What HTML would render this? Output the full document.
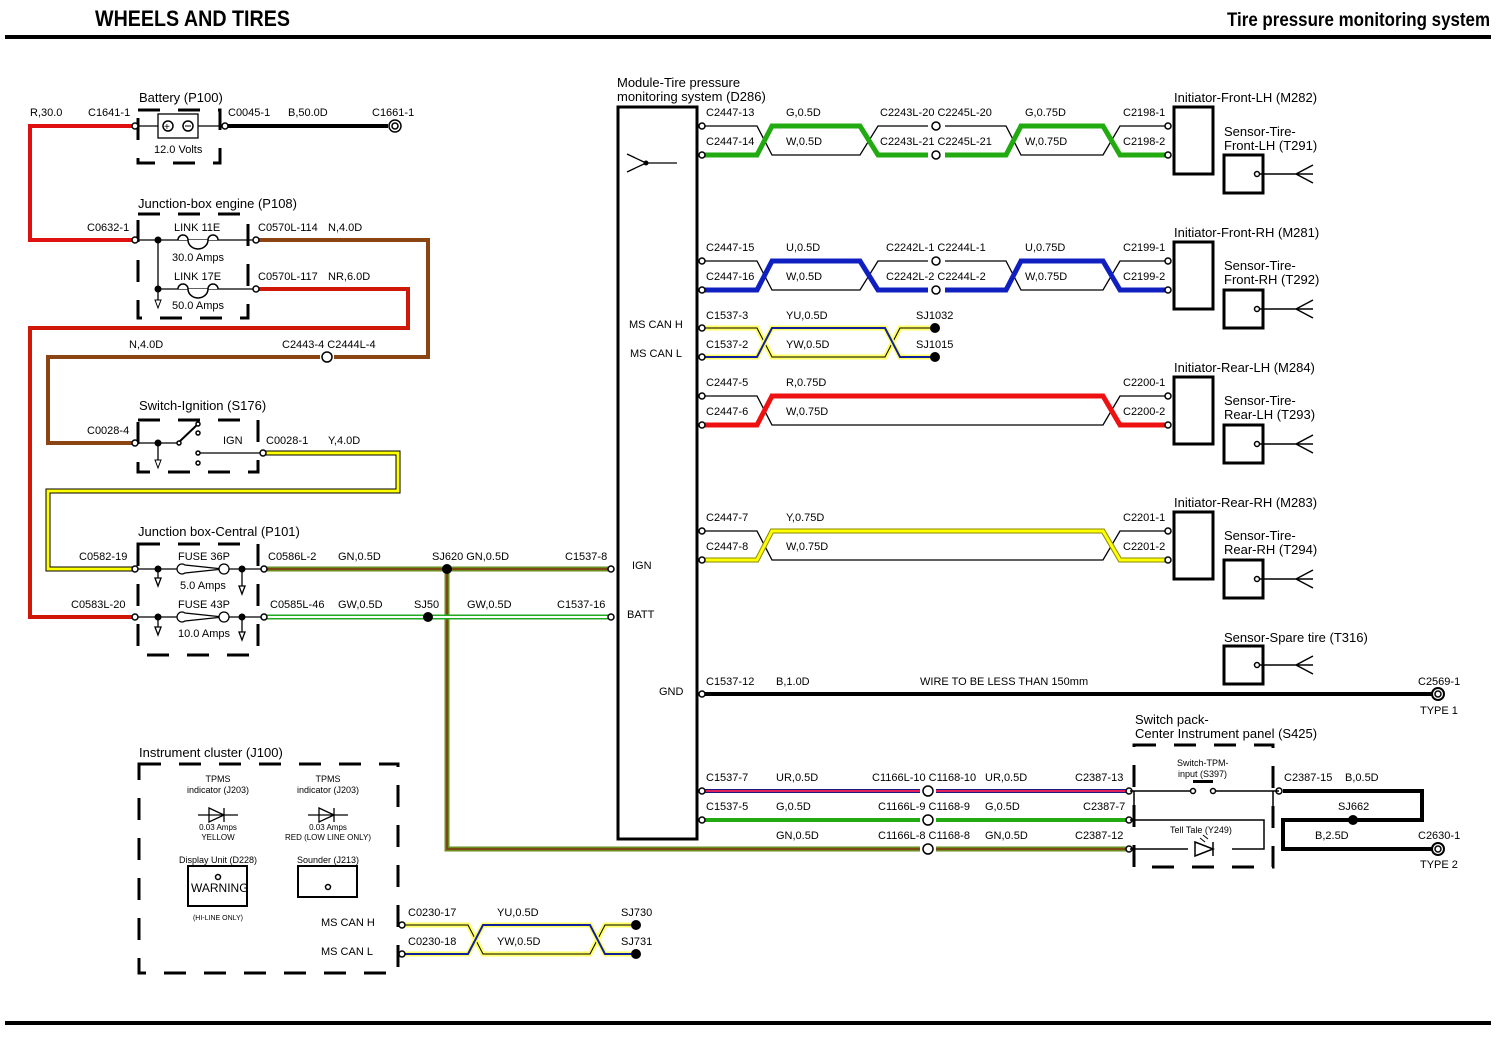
<!DOCTYPE html>
<html><head><meta charset="utf-8"><style>
html,body{margin:0;padding:0;background:#fff;}
svg{display:block;font-family:"Liberation Sans",sans-serif;}
.t{font-size:11px;fill:#000;}
.m{font-size:13px;fill:#000;}
.s{font-size:9px;fill:#000;}
.d{fill:none;stroke:#000;stroke-width:3;stroke-dasharray:22,18;}
.k{fill:none;stroke:#000;stroke-width:1.3;}
.c{fill:#fff;stroke:#000;stroke-width:1.5;}
</style></head><body>
<svg width="1512" height="1041" viewBox="0 0 1512 1041" xmlns="http://www.w3.org/2000/svg">
<rect width="1512" height="1041" fill="#fff"/>
<!-- header -->
<text x="95" y="26" font-size="22" font-weight="bold" textLength="195" lengthAdjust="spacingAndGlyphs">WHEELS AND TIRES</text>
<text x="1227" y="26" font-size="19" font-weight="bold" textLength="263" lengthAdjust="spacingAndGlyphs">Tire pressure monitoring system</text>
<rect x="5" y="35" width="1486" height="4" fill="#000"/>
<rect x="5" y="1021" width="1486" height="4" fill="#000"/>

<!-- ===== colored wires ===== -->
<!-- red battery feed -->
<polyline points="135,126 30,126 30,240 135,240" fill="none" stroke="#e01010" stroke-width="4"/>
<!-- black battery -->
<line x1="226" y1="126" x2="388" y2="126" stroke="#000" stroke-width="4"/>
<!-- brown N -->
<polyline points="258,240 428,240 428,357 334,357" fill="none" stroke="#8b4513" stroke-width="4"/>
<polyline points="320,357 48,357 48,443 135,443" fill="none" stroke="#8b4513" stroke-width="4"/>
<!-- red NR -->
<polyline points="258,289 408,289 408,328 30,328 30,617 133,617" fill="none" stroke="#d01808" stroke-width="4"/>
<!-- yellow -->
<polyline points="264,453 398,453 398,491 48,491 48,569 133,569" fill="none" stroke="#000" stroke-width="5"/>
<polyline points="264,453 398,453 398,491 48,491 48,569 133,569" fill="none" stroke="#ffff00" stroke-width="3"/>
<!-- GN olive -->
<polyline points="265,569 610,569" fill="none" stroke="#6b8e23" stroke-width="5"/>
<polyline points="265,569 610,569" fill="none" stroke="#7a4a10" stroke-width="2"/>
<polyline points="447,569 447,849 920,849" fill="none" stroke="#6b8e23" stroke-width="5"/>
<polyline points="447,569 447,849 920,849" fill="none" stroke="#7a4a10" stroke-width="2"/>
<line x1="936" y1="849" x2="1128" y2="849" stroke="#6b8e23" stroke-width="5"/>
<line x1="936" y1="849" x2="1128" y2="849" stroke="#7a4a10" stroke-width="2"/>
<!-- GW -->
<line x1="265" y1="617" x2="610" y2="617" stroke="#22aa22" stroke-width="5"/>
<line x1="265" y1="617" x2="610" y2="617" stroke="#fff" stroke-width="2"/>

<!-- green pair -->
<polyline points="703,126 757,126 772,155 860,155 878,126 928,126" class="k"/>
<polyline points="945,126 1006,126 1021,155 1103,155 1120,126 1168,126" class="k"/>
<polyline points="703,155 757,155 772,126 860,126 878,155 928,155" fill="none" stroke="#22aa11" stroke-width="5"/>
<polyline points="945,155 1006,155 1021,126 1103,126 1120,155 1168,155" fill="none" stroke="#22aa11" stroke-width="5"/>
<!-- blue pair -->
<polyline points="703,261 757,261 772,290 860,290 878,261 928,261" class="k"/>
<polyline points="945,261 1006,261 1021,290 1103,290 1120,261 1168,261" class="k"/>
<polyline points="703,290 757,290 772,261 860,261 878,290 928,290" fill="none" stroke="#1020c0" stroke-width="5"/>
<polyline points="945,290 1006,290 1021,261 1103,261 1120,290 1168,290" fill="none" stroke="#1020c0" stroke-width="5"/>
<!-- CAN pair -->
<polyline points="703,328 757,328 772,357 885,357 900,328 933,328" fill="none" stroke="#ffff66" stroke-width="5"/>
<polyline points="703,328 757,328 772,357 885,357 900,328 933,328" fill="none" stroke="#000" stroke-width="1"/>
<polyline points="703,357 757,357 772,328 885,328 900,357 933,357" fill="none" stroke="#ffff66" stroke-width="5"/>
<polyline points="703,357 757,357 772,328 885,328 900,357 933,357" fill="none" stroke="#1020a0" stroke-width="2"/>
<circle cx="935" cy="328" r="5" fill="#000"/><circle cx="935" cy="357" r="5" fill="#000"/>
<!-- red pair -->
<polyline points="703,396 757,396 772,425 1103,425 1120,396 1168,396" class="k"/>
<polyline points="703,425 757,425 772,396 1103,396 1120,425 1168,425" fill="none" stroke="#ee1111" stroke-width="5"/>
<!-- yellow pair -->
<polyline points="703,531 757,531 772,560 1103,560 1120,531 1168,531" class="k"/>
<polyline points="703,560 757,560 772,531 1103,531 1120,560 1168,560" fill="none" stroke="#888800" stroke-width="5"/>
<polyline points="703,560 757,560 772,531 1103,531 1120,560 1168,560" fill="none" stroke="#ffff00" stroke-width="3"/>
<!-- GND -->
<line x1="703" y1="694" x2="1432" y2="694" stroke="#000" stroke-width="4"/>
<!-- UR -->
<line x1="703" y1="791" x2="920" y2="791" stroke="#1a1a80" stroke-width="4"/>
<line x1="703" y1="791" x2="920" y2="791" stroke="#e0205a" stroke-width="2"/>
<line x1="936" y1="791" x2="1128" y2="791" stroke="#1a1a80" stroke-width="4"/>
<line x1="936" y1="791" x2="1128" y2="791" stroke="#e0205a" stroke-width="2"/>
<!-- G -->
<line x1="703" y1="820" x2="920" y2="820" stroke="#22aa11" stroke-width="4"/>
<line x1="936" y1="820" x2="1128" y2="820" stroke="#22aa11" stroke-width="4"/>
<!-- black right loop -->
<polyline points="1283,791 1422,791 1422,820 1283,820 1283,849 1432,849" fill="none" stroke="#000" stroke-width="4"/>
<circle cx="1353" cy="820" r="5" fill="#000"/>
<!-- instrument CAN -->
<polyline points="403,925 468,925 483,954 590,954 605,925 634,925" fill="none" stroke="#ffff66" stroke-width="5"/>
<polyline points="403,925 468,925 483,954 590,954 605,925 634,925" fill="none" stroke="#000" stroke-width="1"/>
<polyline points="403,954 468,954 483,925 590,925 605,954 634,954" fill="none" stroke="#ffff66" stroke-width="5"/>
<polyline points="403,954 468,954 483,925 590,925 605,954 634,954" fill="none" stroke="#1020a0" stroke-width="2"/>
<circle cx="636" cy="925" r="5" fill="#000"/><circle cx="636" cy="954" r="5" fill="#000"/>

<!-- ===== Battery ===== -->
<text x="139" y="102" class="m">Battery (P100)</text>
<text x="30" y="116" class="t">R,30.0</text>
<text x="88" y="116" class="t">C1641-1</text>
<text x="228" y="116" class="t">C0045-1</text>
<text x="288" y="116" class="t">B,50.0D</text>
<text x="372" y="116" class="t">C1661-1</text>
<rect x="138" y="110" width="82" height="53" class="d"/>
<line x1="136" y1="126" x2="224" y2="126" stroke="#000" stroke-width="1.3"/>
<rect x="158" y="114" width="40" height="24" fill="#fff" stroke="#000" stroke-width="1.3"/>
<circle cx="168" cy="126" r="5" class="c"/><text x="164" y="130" font-size="10">+</text>
<circle cx="188" cy="126" r="5" class="c"/><line x1="185" y1="126" x2="191" y2="126" stroke="#000"/>
<text x="154" y="153" class="t">12.0 Volts</text>
<circle cx="395" cy="126" r="6" class="c" stroke-width="2"/><circle cx="395" cy="126" r="3" class="c"/>

<!-- ===== Junction engine ===== -->
<text x="138" y="208" class="m">Junction-box engine (P108)</text>
<rect x="138" y="214" width="110" height="104" class="d"/>
<text x="87" y="231" class="t">C0632-1</text>
<text x="258" y="231" class="t">C0570L-114</text><text x="328" y="231" class="t">N,4.0D</text>
<text x="258" y="280" class="t">C0570L-117</text><text x="328" y="280" class="t">NR,6.0D</text>
<text x="174" y="231" class="t">LINK 11E</text><text x="172" y="261" class="t">30.0 Amps</text>
<text x="174" y="280" class="t">LINK 17E</text><text x="172" y="309" class="t">50.0 Amps</text>
<line x1="136" y1="240" x2="256" y2="240" stroke="#000" stroke-width="1.3"/>
<line x1="158" y1="289" x2="256" y2="289" stroke="#000" stroke-width="1.3"/>
<line x1="158" y1="240" x2="158" y2="300" stroke="#000" stroke-width="1.3"/>
<circle cx="158" cy="240" r="3.5" fill="#000"/><circle cx="158" cy="289" r="3.5" fill="#000"/>
<path d="M178,240 a5,5 0 1 1 10,0 a10,9 0 0 0 20,0 a5,5 0 1 1 10,0" fill="#fff" stroke="#000" stroke-width="1.5"/>
<path d="M178,289 a5,5 0 1 1 10,0 a10,9 0 0 0 20,0 a5,5 0 1 1 10,0" fill="#fff" stroke="#000" stroke-width="1.5"/>
<path d="M155,300 l3,8 l3,-8 z" fill="#fff" stroke="#000"/>
<text x="129" y="348" class="t">N,4.0D</text>
<text x="282" y="348" class="t">C2443-4 C2444L-4</text>
<circle cx="327" cy="357" r="5" class="c"/>

<!-- ===== Ignition ===== -->
<text x="139" y="410" class="m">Switch-Ignition (S176)</text>
<rect x="138" y="420" width="120" height="52" class="d"/>
<text x="87" y="434" class="t">C0028-4</text>
<text x="223" y="444" class="t">IGN</text>
<text x="266" y="444" class="t">C0028-1</text><text x="328" y="444" class="t">Y,4.0D</text>
<line x1="136" y1="443" x2="178" y2="443" stroke="#000" stroke-width="1.3"/>
<circle cx="158" cy="443" r="3.5" fill="#000"/>
<line x1="158" y1="443" x2="158" y2="460" stroke="#000" stroke-width="1.3"/>
<path d="M155,460 l3,8 l3,-8 z" fill="#fff" stroke="#000"/>
<line x1="178" y1="443" x2="198" y2="424" stroke="#000" stroke-width="2"/>
<circle cx="179" cy="443" r="2" class="c"/><circle cx="198" cy="424" r="2" class="c"/>
<circle cx="198" cy="433" r="2" class="c"/><circle cx="198" cy="453" r="2" class="c"/><circle cx="198" cy="463" r="2" class="c"/>
<line x1="200" y1="453" x2="262" y2="453" stroke="#000" stroke-width="1.3"/>

<!-- ===== Junction central ===== -->
<text x="138" y="536" class="m">Junction box-Central (P101)</text>
<rect x="138" y="544" width="120" height="111" class="d"/>
<text x="79" y="560" class="t">C0582-19</text>
<text x="71" y="608" class="t">C0583L-20</text>
<text x="268" y="560" class="t">C0586L-2</text><text x="338" y="560" class="t">GN,0.5D</text>
<text x="270" y="608" class="t">C0585L-46</text><text x="338" y="608" class="t">GW,0.5D</text>
<text x="178" y="560" class="t">FUSE 36P</text><text x="180" y="589" class="t">5.0 Amps</text>
<text x="178" y="608" class="t">FUSE 43P</text><text x="178" y="637" class="t">10.0 Amps</text>
<line x1="136" y1="569" x2="262" y2="569" stroke="#000" stroke-width="1.3"/>
<line x1="136" y1="617" x2="262" y2="617" stroke="#000" stroke-width="1.3"/>
<g stroke="#000" stroke-width="1.3" fill="#fff">
<path d="M185,565 a5,5 0 1 0 0,8 l38,-4 l-38,-4z"/><circle cx="224" cy="569" r="5"/>
<path d="M185,613 a5,5 0 1 0 0,8 l38,-4 l-38,-4z"/><circle cx="224" cy="617" r="5"/>
<line x1="158" y1="569" x2="158" y2="579"/><path d="M155,578 l3,8 l3,-8z"/>
<line x1="242" y1="569" x2="242" y2="586"/><path d="M239,586 l3,8 l3,-8z"/>
<line x1="158" y1="617" x2="158" y2="627"/><path d="M155,627 l3,8 l3,-8z"/>
<line x1="242" y1="617" x2="242" y2="632"/><path d="M239,632 l3,8 l3,-8z"/>
</g>
<circle cx="158" cy="569" r="3.5" fill="#000"/><circle cx="242" cy="569" r="3.5" fill="#000"/>
<circle cx="158" cy="617" r="3.5" fill="#000"/><circle cx="242" cy="617" r="3.5" fill="#000"/>
<text x="432" y="560" class="t">SJ620 GN,0.5D</text>
<text x="565" y="560" class="t">C1537-8</text>
<text x="414" y="608" class="t">SJ50</text>
<text x="467" y="608" class="t">GW,0.5D</text>
<text x="557" y="608" class="t">C1537-16</text>
<circle cx="447" cy="569" r="5" fill="#000"/><circle cx="428" cy="617" r="5" fill="#000"/>

<!-- ===== Module ===== -->
<text x="617" y="87" class="m">Module-Tire pressure</text>
<text x="617" y="101" class="m">monitoring system (D286)</text>
<rect x="618" y="107" width="79" height="732" fill="#fff" stroke="#000" stroke-width="3"/>
<line x1="627" y1="154" x2="646" y2="163" stroke="#000" stroke-width="1.3"/>
<line x1="627" y1="172" x2="646" y2="163" stroke="#000" stroke-width="1.3"/>
<line x1="646" y1="163" x2="677" y2="163" stroke="#000" stroke-width="1.3"/>
<circle cx="646" cy="163" r="2.5" fill="#000"/>
<text x="629" y="328" class="t">MS CAN H</text>
<text x="630" y="357" class="t">MS CAN L</text>
<text x="632" y="569" class="t">IGN</text>
<text x="627" y="618" class="t">BATT</text>
<text x="659" y="695" class="t">GND</text>

<!-- right side labels -->
<g class="t">
<text x="706" y="116">C2447-13</text><text x="786" y="116">G,0.5D</text><text x="880" y="116">C2243L-20 C2245L-20</text><text x="1025" y="116">G,0.75D</text><text x="1123" y="116">C2198-1</text>
<text x="706" y="145">C2447-14</text><text x="786" y="145">W,0.5D</text><text x="880" y="145">C2243L-21 C2245L-21</text><text x="1025" y="145">W,0.75D</text><text x="1123" y="145">C2198-2</text>
<text x="706" y="251">C2447-15</text><text x="786" y="251">U,0.5D</text><text x="886" y="251">C2242L-1 C2244L-1</text><text x="1025" y="251">U,0.75D</text><text x="1123" y="251">C2199-1</text>
<text x="706" y="280">C2447-16</text><text x="786" y="280">W,0.5D</text><text x="886" y="280">C2242L-2 C2244L-2</text><text x="1025" y="280">W,0.75D</text><text x="1123" y="280">C2199-2</text>
<text x="706" y="319">C1537-3</text><text x="786" y="319">YU,0.5D</text><text x="916" y="319">SJ1032</text>
<text x="706" y="348">C1537-2</text><text x="786" y="348">YW,0.5D</text><text x="916" y="348">SJ1015</text>
<text x="706" y="386">C2447-5</text><text x="786" y="386">R,0.75D</text><text x="1123" y="386">C2200-1</text>
<text x="706" y="415">C2447-6</text><text x="786" y="415">W,0.75D</text><text x="1123" y="415">C2200-2</text>
<text x="706" y="521">C2447-7</text><text x="786" y="521">Y,0.75D</text><text x="1123" y="521">C2201-1</text>
<text x="706" y="550">C2447-8</text><text x="786" y="550">W,0.75D</text><text x="1123" y="550">C2201-2</text>
<text x="706" y="685">C1537-12</text><text x="776" y="685">B,1.0D</text><text x="920" y="685">WIRE TO BE LESS THAN 150mm</text><text x="1418" y="685">C2569-1</text><text x="1420" y="714">TYPE 1</text>
<text x="706" y="781">C1537-7</text><text x="776" y="781">UR,0.5D</text><text x="872" y="781">C1166L-10 C1168-10</text><text x="985" y="781">UR,0.5D</text><text x="1075" y="781">C2387-13</text>
<text x="706" y="810">C1537-5</text><text x="776" y="810">G,0.5D</text><text x="878" y="810">C1166L-9 C1168-9</text><text x="985" y="810">G,0.5D</text><text x="1083" y="810">C2387-7</text>
<text x="776" y="839">GN,0.5D</text><text x="878" y="839">C1166L-8 C1168-8</text><text x="985" y="839">GN,0.5D</text><text x="1075" y="839">C2387-12</text>
<text x="1284" y="781">C2387-15</text><text x="1345" y="781">B,0.5D</text><text x="1338" y="810">SJ662</text><text x="1315" y="839">B,2.5D</text><text x="1418" y="839">C2630-1</text><text x="1420" y="868">TYPE 2</text>
</g>
<!-- inline connectors -->
<g class="c">
<circle cx="936" cy="126" r="4"/><circle cx="936" cy="155" r="4"/>
<circle cx="936" cy="261" r="4"/><circle cx="936" cy="290" r="4"/>
<circle cx="928" cy="791" r="5"/><circle cx="928" cy="820" r="5"/><circle cx="928" cy="849" r="5"/>
<circle cx="1438" cy="694" r="6" stroke-width="2"/><circle cx="1438" cy="694" r="3"/>
<circle cx="1438" cy="849" r="6" stroke-width="2"/><circle cx="1438" cy="849" r="3"/>
</g>
<!-- pin connectors -->
<g class="c">
<circle cx="135" cy="126" r="3"/><circle cx="225" cy="126" r="3"/>
<circle cx="135" cy="240" r="3"/><circle cx="256" cy="240" r="3"/><circle cx="256" cy="289" r="3"/>
<circle cx="135" cy="443" r="3"/><circle cx="263" cy="453" r="3"/>
<circle cx="135" cy="569" r="3"/><circle cx="135" cy="617" r="3"/><circle cx="264" cy="569" r="3"/><circle cx="264" cy="617" r="3"/>
<circle cx="611" cy="569" r="3"/><circle cx="611" cy="617" r="3"/>
<circle cx="702" cy="126" r="3"/><circle cx="702" cy="155" r="3"/><circle cx="702" cy="261" r="3"/><circle cx="702" cy="290" r="3"/>
<circle cx="702" cy="328" r="3"/><circle cx="702" cy="357" r="3"/><circle cx="702" cy="396" r="3"/><circle cx="702" cy="425" r="3"/>
<circle cx="702" cy="531" r="3"/><circle cx="702" cy="560" r="3"/><circle cx="702" cy="694" r="3"/><circle cx="702" cy="791" r="3"/><circle cx="702" cy="820" r="3"/>
<circle cx="1168" cy="126" r="3"/><circle cx="1168" cy="155" r="3"/><circle cx="1168" cy="261" r="3"/><circle cx="1168" cy="290" r="3"/>
<circle cx="1168" cy="396" r="3"/><circle cx="1168" cy="425" r="3"/><circle cx="1168" cy="531" r="3"/><circle cx="1168" cy="560" r="3"/>
<circle cx="1129" cy="791" r="3"/><circle cx="1129" cy="820" r="3"/><circle cx="1129" cy="849" r="3"/><circle cx="1279" cy="791" r="3"/>
<circle cx="402" cy="925" r="3"/><circle cx="402" cy="954" r="3"/>
</g>

<!-- initiators & sensors -->
<g fill="#fff" stroke="#000" stroke-width="3">
<rect x="1174" y="107" width="39" height="67"/><rect x="1224" y="155" width="39" height="38"/>
<rect x="1174" y="242" width="39" height="67"/><rect x="1224" y="290" width="39" height="38"/>
<rect x="1174" y="377" width="39" height="67"/><rect x="1224" y="425" width="39" height="38"/>
<rect x="1174" y="512" width="39" height="67"/><rect x="1224" y="560" width="39" height="38"/>
<rect x="1224" y="646" width="39" height="38"/>
</g>
<g stroke="#000" stroke-width="1.5" fill="none">
<path d="M1257,174 H1296 M1296,174 L1313,165 M1296,174 L1313,183 M1296,174 H1313"/>
<path d="M1257,309 H1296 M1296,309 L1313,300 M1296,309 L1313,318 M1296,309 H1313"/>
<path d="M1257,444 H1296 M1296,444 L1313,435 M1296,444 L1313,453 M1296,444 H1313"/>
<path d="M1257,579 H1296 M1296,579 L1313,570 M1296,579 L1313,588 M1296,579 H1313"/>
<path d="M1257,665 H1296 M1296,665 L1313,656 M1296,665 L1313,674 M1296,665 H1313"/>
</g>
<g class="c"><circle cx="1257" cy="174" r="2.5"/><circle cx="1257" cy="309" r="2.5"/><circle cx="1257" cy="444" r="2.5"/><circle cx="1257" cy="579" r="2.5"/><circle cx="1257" cy="665" r="2.5"/></g>
<g class="m">
<text x="1174" y="102">Initiator-Front-LH (M282)</text><text x="1224" y="136">Sensor-Tire-</text><text x="1224" y="150">Front-LH (T291)</text>
<text x="1174" y="237">Initiator-Front-RH (M281)</text><text x="1224" y="270">Sensor-Tire-</text><text x="1224" y="284">Front-RH (T292)</text>
<text x="1174" y="372">Initiator-Rear-LH (M284)</text><text x="1224" y="405">Sensor-Tire-</text><text x="1224" y="419">Rear-LH (T293)</text>
<text x="1174" y="507">Initiator-Rear-RH (M283)</text><text x="1224" y="540">Sensor-Tire-</text><text x="1224" y="554">Rear-RH (T294)</text>
<text x="1224" y="642">Sensor-Spare tire (T316)</text>
<text x="1135" y="724">Switch pack-</text><text x="1135" y="738">Center Instrument panel (S425)</text>
</g>

<!-- switch pack -->
<rect x="1134" y="745" width="139" height="122" class="d"/>
<g stroke="#000" stroke-width="1.5" fill="none">
<path d="M1130,791 H1193 M1213,791 H1279 M1134,791 V820 M1130,820 H1264 V849 H1232 M1130,849 H1188"/>
<line x1="1273" y1="791" x2="1273" y2="820"/>
</g>
<rect x="1193" y="780" width="20" height="3" fill="#000"/>
<g class="c"><circle cx="1193" cy="791" r="2.5"/><circle cx="1213" cy="791" r="2.5"/></g>
<path d="M1195,842 L1213,849 L1195,856 Z M1213,842 V856" fill="#fff" stroke="#000" stroke-width="1.5"/>
<path d="M1200,838 l5,4 M1203,835 l5,4" stroke="#000"/>
<text x="1177" y="766" class="s">Switch-TPM-</text><text x="1178" y="777" class="s">input (S397)</text>
<text x="1170" y="833" class="s">Tell Tale (Y249)</text>

<!-- instrument cluster -->
<text x="139" y="757" class="m">Instrument cluster (J100)</text>
<rect x="139" y="764" width="259" height="209" class="d"/>
<g class="s" text-anchor="middle">
<text x="218" y="782">TPMS</text><text x="218" y="793">indicator (J203)</text><text x="218" y="830" font-size="8">0.03 Amps</text><text x="218" y="840" font-size="8">YELLOW</text>
<text x="328" y="782">TPMS</text><text x="328" y="793">indicator (J203)</text><text x="328" y="830" font-size="8">0.03 Amps</text><text x="328" y="840" font-size="8">RED (LOW LINE ONLY)</text>
<text x="218" y="863">Display Unit (D228)</text><text x="328" y="863">Sounder (J213)</text>
<text x="218" y="920" font-size="7">(HI-LINE ONLY)</text>
</g>
<g stroke="#000" stroke-width="1.3" fill="#fff">
<path d="M198,815 H238 M209,808 L224,815 L209,822 Z M224,808 V822"/>
<path d="M308,815 H348 M319,808 L334,815 L319,822 Z M334,808 V822"/>
</g>
<rect x="188" y="866" width="59" height="40" fill="#fff" stroke="#000" stroke-width="2"/>
<rect x="298" y="866" width="59" height="31" fill="#fff" stroke="#000" stroke-width="2"/>
<circle cx="218" cy="877" r="2.5" class="c"/><circle cx="328" cy="887" r="2.5" class="c"/>
<text x="191" y="892" font-size="12">WARNING</text>
<text x="321" y="926" class="t">MS CAN H</text><text x="321" y="955" class="t">MS CAN L</text>
<text x="408" y="916" class="t">C0230-17</text><text x="497" y="916" class="t">YU,0.5D</text><text x="621" y="916" class="t">SJ730</text>
<text x="408" y="945" class="t">C0230-18</text><text x="497" y="945" class="t">YW,0.5D</text><text x="621" y="945" class="t">SJ731</text>
</svg>
</body></html>
